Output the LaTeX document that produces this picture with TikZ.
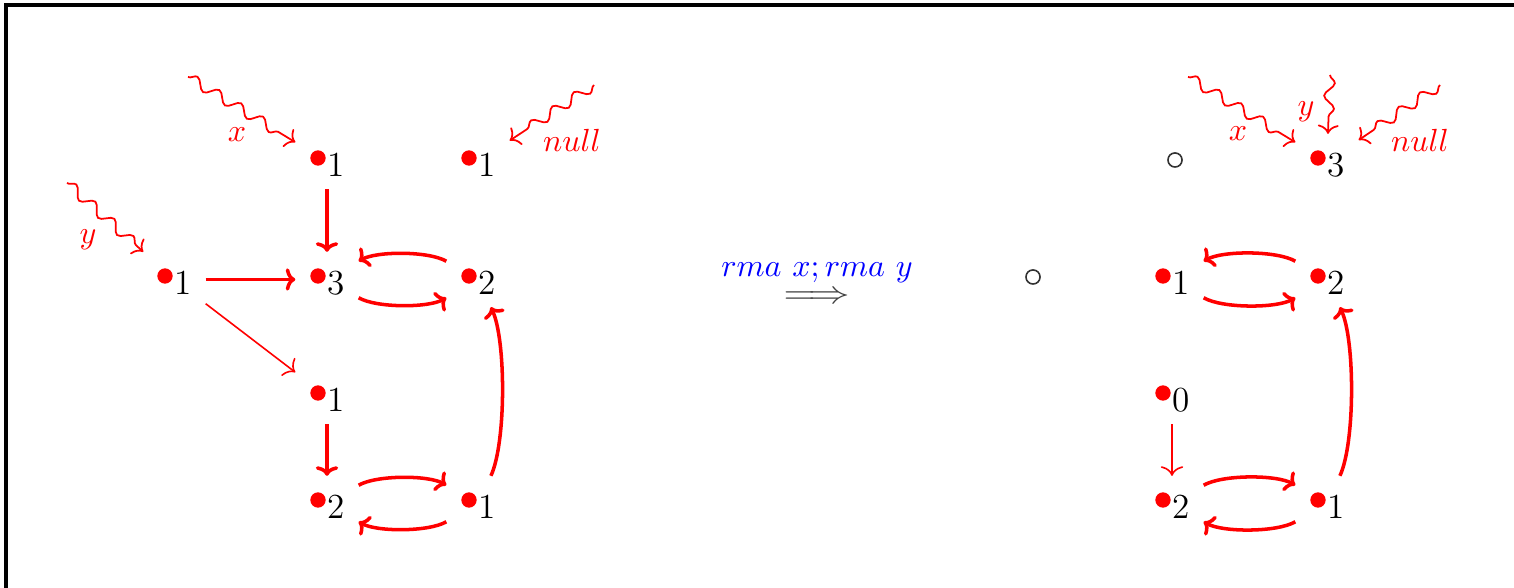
\documentclass[tikz,border=0pt]{standalone}
\usetikzlibrary{decorations.pathmorphing,arrows.meta}
\newcommand\vtx[4]{%
  \node[vbox] (#1) at (#2,#3) {};
  \node[dotst] (#1dot) at ([shift={(-9,-3.5)}]#1.center) {};
  \node[num] (#1num) at ([shift={(9,3.5)}]#1.center) {#4};}
\begin{document}
\begin{tikzpicture}[x=0.3125pt,y=-0.3125pt,
  vbox/.style={rectangle,inner sep=0,minimum width=19.4pt,minimum height=16.9pt},
  dotst/.style={circle,fill=red,inner sep=0,minimum size=4.8pt},
  odot/.style={circle,draw=black!80,line width=0.5pt,inner sep=0,minimum size=4.4pt},
  num/.style={inner sep=0,font=\fontsize{11}{13}\selectfont},
  lab/.style={text=red,inner sep=0},
  thk/.style={draw=red,line width=1.1pt,-{To[length=3pt,width=7pt]}},
  thn/.style={draw=red,line width=0.5pt,-{To[length=3pt,width=7pt]}},
  sq/.style={draw=red,line width=0.55pt,-{To[length=2.8pt,width=6.5pt]},decorate,
    decoration={snake,amplitude=1.6pt,segment length=8pt,post length=3pt}}]
\useasboundingbox (0,0) rectangle (1514,588);
\draw[line width=1pt] (6,588) -- (6,5) -- (1514,5);
% left graph
\vtx{a}{327}{161.5}{1}
\vtx{b}{478}{161.5}{1}
\vtx{c}{174}{279.5}{1}
\vtx{d}{327}{279.5}{3}
\vtx{e}{478}{279.5}{2}
\vtx{f}{327}{396.5}{1}
\vtx{g}{327}{503.5}{2}
\vtx{h}{478}{503.5}{1}
\draw[thk] (a) -- (d);
\draw[thk] (c) -- (d);
\draw[thn] (c) -- (f);
\draw[thk] (f) -- (g);
\draw[thk] (e) to[out=150,in=30,looseness=0.6] (d);
\draw[thk] (d) to[out=-30,in=-150,looseness=0.6] (e);
\draw[thk] (g) to[out=30,in=150,looseness=0.6] (h);
\draw[thk] (h) to[out=-150,in=-30,looseness=0.6] (g);
\draw[thk] (h) to[out=65,in=-65,looseness=0.55] (e);
\coordinate (xt) at (188,77);
\coordinate (yt) at (67,183);
\coordinate (nt) at (594,85);
\draw[sq] (xt) -- (a);
\draw[sq] (yt) -- (c);
\draw[sq] (nt) -- (b);
\node[lab] (lx) at (237,135) {$x$};
\node[lab] (ly) at (88,240) {$y$};
\node[lab] (ln) at (572,140) {$null$};
% middle
\node[inner sep=0,align=center] (tr) at (817,283)
  {\textcolor{blue}{$rma\ x;rma\ y$}\\[-3.4pt]\textcolor{black!75}{\scalebox{1.3}[1]{$\Longrightarrow$}}};
% right graph
\node[odot] (p) at (1175,160) {};
\node[odot] (q) at (1033,277) {};
\vtx{a2}{1327}{161.5}{3}
\vtx{d2}{1172}{279.5}{1}
\vtx{e2}{1327}{279.5}{2}
\vtx{f2}{1172}{396.5}{0}
\vtx{g2}{1172}{503.5}{2}
\vtx{h2}{1327}{503.5}{1}
\draw[thk] (e2) to[out=150,in=30,looseness=0.6] (d2);
\draw[thk] (d2) to[out=-30,in=-150,looseness=0.6] (e2);
\draw[thk] (g2) to[out=30,in=150,looseness=0.6] (h2);
\draw[thk] (h2) to[out=-150,in=-30,looseness=0.6] (g2);
\draw[thk] (h2) to[out=65,in=-65,looseness=0.55] (e2);
\draw[thn] (f2) -- (g2);
\coordinate (xt2) at (1188,77);
\coordinate (yt2) at (1330,75);
\coordinate (nt2) at (1440,85);
\draw[sq] (xt2) -- (a2);
\draw[sq] (yt2) -- (a2);
\draw[sq] (nt2) -- (a2);
\node[lab] (lx2) at (1238,134) {$x$};
\node[lab] (ly2) at (1306,112) {$y$};
\node[lab] (ln2) at (1420,140) {$null$};
\end{tikzpicture}
\end{document}
